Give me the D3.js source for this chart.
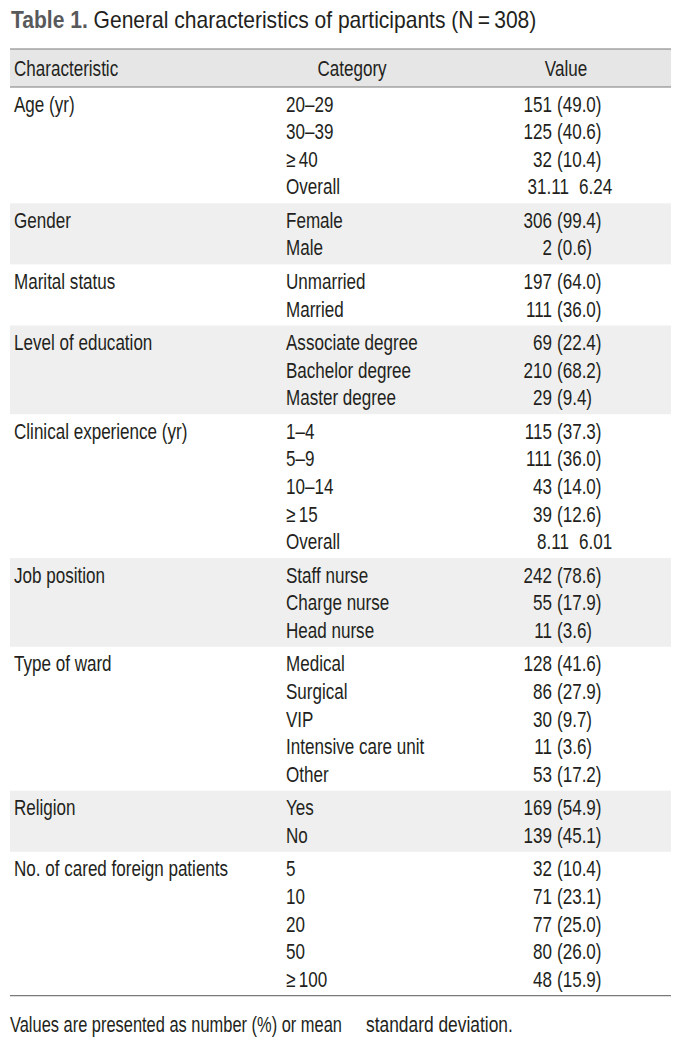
<!DOCTYPE html>
<html>
<head>
<meta charset="utf-8">
<script src="https://cdn.jsdelivr.net/npm/d3@7"></script>
<style>
  body { margin: 0; background: #fff; }
  svg text { font-family: "Liberation Sans", Arial, sans-serif; fill: #231f20; }
</style>
</head>
<body>
<script>
// table content, one entry per characteristic
var characteristics = ["Age (yr)", "Gender", "Marital status", "Level of education",
    "Clinical experience (yr)", "Job position", "Type of ward", "Religion",
    "No. of cared foreign patients"];

var categories = [
    ["20–29", "30–39", "≥\u200940", "Overall"],
    ["Female", "Male"],
    ["Unmarried", "Married"],
    ["Associate degree", "Bachelor degree", "Master degree"],
    ["1–4", "5–9", "10–14", "≥\u200915", "Overall"],
    ["Staff nurse", "Charge nurse", "Head nurse"],
    ["Medical", "Surgical", "VIP", "Intensive care unit", "Other"],
    ["Yes", "No"],
    ["5", "10", "20", "50", "≥\u2009100"]
];

// number (or mean for "Overall" rows)
var counts = [
    ["151", "125", "32", "31.11"],
    ["306", "2"],
    ["197", "111"],
    ["69", "210", "29"],
    ["115", "111", "43", "39", "8.11"],
    ["242", "55", "11"],
    ["128", "86", "30", "11", "53"],
    ["169", "139"],
    ["32", "71", "77", "80", "48"]
];

// percent (or SD for "Overall" rows)
var percents = [
    ["49.0", "40.6", "10.4", "6.24"],
    ["99.4", "0.6"],
    ["64.0", "36.0"],
    ["22.4", "68.2", "9.4"],
    ["37.3", "36.0", "14.0", "12.6", "6.01"],
    ["78.6", "17.9", "3.6"],
    ["41.6", "27.9", "9.7", "3.6", "17.2"],
    ["54.9", "45.1"],
    ["10.4", "23.1", "25.0", "26.0", "15.9"]
];

var headers = ["Characteristic", "Category", "Value"];

var W = 691, H = 1042;
var left = 10, right = 671;
var headTop = 49, headBottom = 87;
var rowH = 27.6, groupPad = 5.9;
var fs = 22;
var sx = 0.775; // squeeze to mimic the condensed face

var svg = d3.select("body").append("svg")
    .attr("width", W)
    .attr("height", H);

svg.append("rect").attr("width", W).attr("height", H).attr("fill", "#fff");

// put a text at (x,y) squeezed horizontally
function place(sel, xf, yf, s) {
    s = s || sx;
    sel.attr("transform", function (d, i) {
        var x = typeof xf === "function" ? xf(d, i) : xf;
        var y = typeof yf === "function" ? yf(d, i) : yf;
        return "translate(" + x + "," + y + ") scale(" + s + ",1)";
    });
}

// title
var title = svg.append("text")
    .attr("font-size", 23);
place(title, 11, 28, 0.915);
title.append("tspan").attr("font-weight", "bold").style("fill", "#58595b").text("Table 1.");
title.append("tspan").text(" General characteristics of participants (N\u2009=\u2009308)");

// build group layout
var groups = [];
var yPos = headBottom;
characteristics.forEach(function (c, i) {
    var n = categories[i].length;
    var h = n * rowH + groupPad;
    groups.push({ name: c, index: i, top: yPos, height: h });
    yPos += h;
});
var tableBottom = yPos;

// row index -> y within a group
var rowY = d3.scaleLinear().domain([0, 1]).range([groupPad / 2 + rowH * 0.5 + 7.8, groupPad / 2 + rowH * 1.5 + 7.8]);

// header band
svg.append("rect")
    .attr("x", left).attr("y", headTop)
    .attr("width", right - left).attr("height", headBottom - headTop)
    .attr("fill", "#e6e6e6");

// group bands (alternating)
svg.selectAll("rect.band")
    .data(groups.filter(function (g) { return g.index % 2 === 1; }))
    .enter()
    .append("rect")
    .attr("class", "band")
    .attr("x", left)
    .attr("y", function (d) { return d.top; })
    .attr("width", right - left)
    .attr("height", function (d) { return d.height; })
    .attr("fill", "#efefef");

// rules
[headTop, headBottom, tableBottom].forEach(function (y) {
    svg.append("line")
        .attr("x1", left).attr("x2", right)
        .attr("y1", y).attr("y2", y)
        .attr("stroke", "#7a7a7a")
        .attr("stroke-width", 1.2);
});

// header text
var headX = [14, 352, 566];
var headAnchor = ["start", "middle", "middle"];
var ht = svg.selectAll("text.head")
    .data(headers)
    .enter()
    .append("text")
    .attr("class", "head")
    .attr("font-size", fs)
    .attr("text-anchor", function (d, i) { return headAnchor[i]; })
    .text(function (d) { return d; });
place(ht, function (d, i) { return headX[i]; }, 76);

var colCat = 286, colNum = 552, colPct = 557, colMean = 569, colSd = 579;

var g = svg.selectAll("g.group")
    .data(groups)
    .enter()
    .append("g")
    .attr("class", "group")
    .attr("transform", function (d) { return "translate(0," + d.top + ")"; });

var gt = g.append("text")
    .attr("font-size", fs)
    .text(function (d) { return d.name; });
place(gt, 14, rowY(0));

var rows = g.selectAll("g.row")
    .data(function (d) {
        return categories[d.index].map(function (c, j) {
            return { cat: c, num: counts[d.index][j], pct: percents[d.index][j], j: j, mean: c === "Overall" };
        });
    })
    .enter()
    .append("g")
    .attr("class", "row")
    .attr("transform", function (d) { return "translate(0," + rowY(d.j) + ")"; });

place(rows.append("text")
    .attr("font-size", fs)
    .text(function (d) { return d.cat; }), colCat, 0);

place(rows.append("text")
    .attr("text-anchor", "end")
    .attr("font-size", fs)
    .text(function (d) { return d.num; }), function (d) { return d.mean ? colMean : colNum; }, 0);

place(rows.append("text")
    .attr("font-size", fs)
    .text(function (d) { return d.mean ? d.pct : "(" + d.pct + ")"; }), function (d) { return d.mean ? colSd : colPct; }, 0);

// footnote (the ± sign is missing in the source, leave the gap)
var foot1 = svg.append("text")
    .attr("font-size", 21.2)
    .text("Values are presented as number (%) or mean");
place(foot1, left, 1032);
var foot2 = svg.append("text")
    .attr("font-size", 21.2)
    .text("standard deviation.");
place(foot2, 366, 1032, 0.82);
</script>
</body>
</html>
